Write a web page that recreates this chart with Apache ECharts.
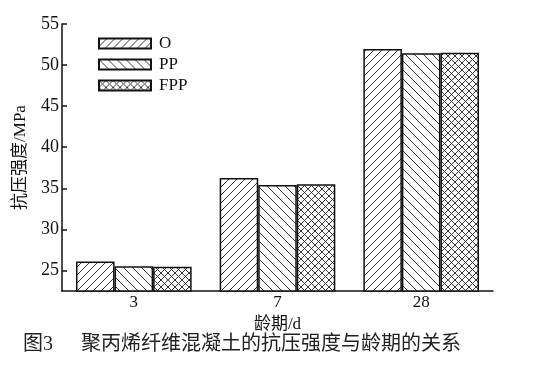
<!DOCTYPE html>
<html><head><meta charset="utf-8">
<script src="https://cdn.jsdelivr.net/npm/echarts@6/dist/echarts.min.js"></script>
<style>html,body{margin:0;padding:0;background:#fff}#c{width:533px;height:369px}</style>
</head><body><div id="c"></div>
<script>
var categories = ['3', '7', '28'];
var seriesNames = ['O', 'PP', 'FPP'];
var valuesO = [26.1, 36.25, 51.95];
var valuesPP = [25.5, 35.4, 51.45];
var valuesFPP = [25.45, 35.5, 51.5];
var yTicks = [25, 30, 35, 40, 45, 50, 55];
var captionLabel = '图3';
var captionText = '聚丙烯纤维混凝土的抗压强度与龄期的关系';

function hatch(kind) {
  var c = document.createElement('canvas');
  var p = kind === 'cross' ? 7 : (kind === 'fwd' ? 8 : 9);
  c.width = p; c.height = p;
  var g = c.getContext('2d');
  g.fillStyle = '#fff'; g.fillRect(0, 0, p, p);
  g.strokeStyle = '#222'; g.lineWidth = 0.9;
  function fwd() { g.beginPath(); g.moveTo(-1, p + 1); g.lineTo(p + 1, -1); g.moveTo(-1, 1); g.lineTo(1, -1); g.moveTo(p - 1, p + 1); g.lineTo(p + 1, p - 1); g.stroke(); }
  function back() { g.beginPath(); g.moveTo(-1, -1); g.lineTo(p + 1, p + 1); g.moveTo(p - 1, -1); g.lineTo(p + 1, 1); g.moveTo(-1, p - 1); g.lineTo(1, p + 1); g.stroke(); }
  if (kind === 'fwd') fwd();
  else if (kind === 'back') back();
  else { fwd(); back(); }
  return { image: c, repeat: 'repeat' };
}
var fills = [hatch('fwd'), hatch('back'), hatch('cross')];
var vals = [valuesO, valuesPP, valuesFPP];

var serif = '"Liberation Serif", "Noto Sans CJK SC", serif';
var capStyle = { fontFamily: '"Liberation Serif", "Noto Sans CJK SC", serif', fontSize: 20, fontWeight: 'normal', color: '#222' };
var chart = echarts.init(document.getElementById('c'), null, { renderer: 'canvas' });
chart.setOption({
  animation: false,
  backgroundColor: '#fff',
  title: [
    { text: captionLabel, left: 18, top: 330, textStyle: capStyle },
    { text: captionText, left: 76, top: 330, textStyle: capStyle }
  ],
  legend: {
    orient: 'vertical', left: 93, top: 30, itemWidth: 52, itemHeight: 10, itemGap: 4,
    icon: 'rect',
    data: seriesNames,
    textStyle: { fontFamily: serif, fontSize: 17, color: '#111', padding: [0, 0, 0, 3] }
  },
  grid: { left: 62, right: 40, top: 24, bottom: 78 },
  xAxis: [{
    type: 'category', data: categories,
    name: '龄期/d', nameLocation: 'middle', nameGap: 24,
    nameTextStyle: { fontFamily: serif, fontSize: 17, color: '#111' },
    axisLine: { lineStyle: { color: '#111', width: 1.5 } },
    axisTick: { inside: true, length: 5, lineStyle: { color: '#111', width: 1.5 } },
    axisLabel: { fontFamily: serif, fontSize: 17, color: '#111', margin: 3 }
  }, {
    type: 'category', data: categories, position: 'bottom',
    axisLine: { show: false },
    axisTick: { inside: true, alignWithLabel: true, length: 5, lineStyle: { color: '#111', width: 1.5 } },
    axisLabel: { show: false }
  }],
  yAxis: {
    type: 'value', min: 22.5, max: 55,
    name: '抗压强度/MPa', nameLocation: 'middle', nameGap: 33,
    nameTextStyle: { fontFamily: serif, fontSize: 17, color: '#111' },
    axisLine: { show: true, lineStyle: { color: '#111', width: 1.5 } },
    axisTick: { show: true, inside: true, length: 5, customValues: yTicks, lineStyle: { color: '#111', width: 1.5 } },
    axisLabel: { fontFamily: serif, fontSize: 18, color: '#111', margin: 3, customValues: yTicks },
    splitLine: { show: false }
  },
  series: seriesNames.map(function (n, i) {
    return {
      name: n, type: 'bar', data: vals[i], barGap: '0%', barCategoryGap: '19.5%',
      itemStyle: { color: fills[i], borderColor: '#111', borderWidth: 1.5 }
    };
  })
});
</script></body></html>
